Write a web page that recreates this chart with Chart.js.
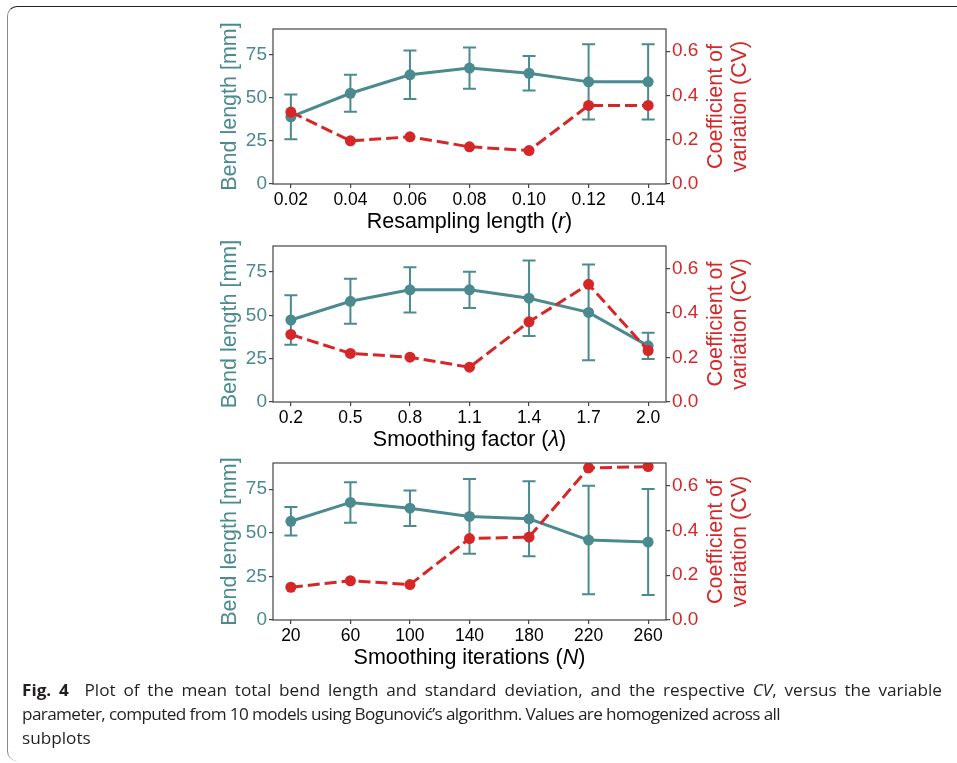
<!DOCTYPE html>
<html>
<head>
<meta charset="utf-8">
<script src="https://cdn.jsdelivr.net/npm/chart.js@4/dist/chart.umd.min.js"></script>
<style>
  html, body { margin:0; padding:0; background:#fff; width:957px; height:763px; overflow:hidden; }
  canvas { position:absolute; left:0; }
  #frame { position:absolute; left:7px; top:6px; width:1000px; height:754px;
           border-top:1.5px solid #222; border-left:1.5px solid #8a8a8a; border-radius:10px 0 0 10px; }
  #cap { position:absolute; left:22px; top:678px; font-family:"Open Sans","Noto Sans",sans-serif;
         font-size:16px; line-height:24px; color:#231f20; white-space:nowrap; }
  #cap .ln { white-space:nowrap; display:block; width:max-content; transform-origin:0 0; }
</style>
</head>
<body>
<div id="frame"></div>
<canvas id="c1" width="957" height="225" style="top:19px"></canvas>
<canvas id="c2" width="957" height="226" style="top:236px"></canvas>
<canvas id="c3" width="957" height="227" style="top:453px"></canvas>
<div id="cap">
  <div class="ln" id="ln1"><b>Fig. 4</b>&nbsp; Plot of the mean total bend length and standard deviation, and the respective <i>CV</i>, versus the variable</div>
  <div class="ln" id="ln2">parameter, computed from 10 models using Bogunović’s algorithm. Values are homogenized across all</div>
  <div class="ln" id="ln3">subplots</div>
</div>
<script>
// ---- data ----
const catsR = ['0.02','0.04','0.06','0.08','0.10','0.12','0.14'];
const meanR = [39.0, 52.7, 63.4, 67.3, 64.3, 59.3, 59.3];
const sdR   = [13.0, 10.7, 14.1, 12.0, 10.0, 21.9, 21.9];
const cvR   = [0.325, 0.195, 0.213, 0.168, 0.151, 0.355, 0.355];

const catsL = ['0.2','0.5','0.8','1.1','1.4','1.7','2.0'];
const meanL = [47.3, 58.1, 64.7, 64.7, 59.9, 51.7, 32.4];
const sdL   = [14.3, 13.0, 13.1, 10.4, 21.8, 27.6, 7.6];
const cvL   = [0.303, 0.218, 0.201, 0.156, 0.360, 0.528, 0.231];

const catsN = ['20','60','100','140','180','220','260'];
const meanN = [56.6, 67.4, 64.1, 59.4, 58.0, 45.8, 44.7];
const sdN   = [8.2, 11.6, 10.2, 21.4, 21.5, 31.1, 30.4];
const cvN   = [0.146, 0.175, 0.158, 0.363, 0.370, 0.678, 0.684];

const leftTicks  = [0, 25, 50, 75];
const rightTicks = [0, 0.2, 0.4, 0.6];
const leftTitle  = 'Bend length [mm]';
const rightTitle = ['Coefficient of', 'variation (CV)'];
const xTitleR = [['Resampling length (', false], ['r', true], [')', false]];
const xTitleL = [['Smoothing factor (', false], ['λ', true], [')', false]];
const xTitleN = [['Smoothing iterations (', false], ['N', true], [')', false]];

// ---- style ----
const TEAL = '#4b8a8e';
const RED = '#d62728';
const AX = '#444444';
const FAM = '"Liberation Sans", Arial, Helvetica, sans-serif';
const TITLE_SIZE = 21.5;
Chart.defaults.font.family = FAM;

function zeroPad(s) { s.paddingTop = 0; s.paddingBottom = 0; s.paddingLeft = 0; s.paddingRight = 0; }

function makeDecor(mean, sd, xTitle) {
  return {
    id: 'decor',
    beforeDatasetsDraw(chart) {
      const ctx = chart.ctx, xs = chart.scales.x, ys = chart.scales.y;
      ctx.save();
      ctx.strokeStyle = TEAL; ctx.lineWidth = 2;
      mean.forEach((m, i) => {
        const px = xs.getPixelForValue(i);
        const t = ys.getPixelForValue(m + sd[i]);
        const b = ys.getPixelForValue(m - sd[i]);
        ctx.beginPath();
        ctx.moveTo(px, t); ctx.lineTo(px, b);
        ctx.moveTo(px - 6.5, t); ctx.lineTo(px + 6.5, t);
        ctx.moveTo(px - 6.5, b); ctx.lineTo(px + 6.5, b);
        ctx.stroke();
      });
      ctx.restore();
    },
    afterDraw(chart) {
      const ctx = chart.ctx, a = chart.chartArea;
      ctx.save();
      ctx.strokeStyle = AX; ctx.lineWidth = 1.2;
      ctx.strokeRect(a.left, a.top, a.right - a.left, a.bottom - a.top);
      const midY = (a.top + a.bottom) / 2;
      ctx.save();
      ctx.translate(230, midY); ctx.rotate(-Math.PI / 2);
      ctx.font = TITLE_SIZE + 'px ' + FAM; ctx.fillStyle = TEAL;
      ctx.textAlign = 'center'; ctx.textBaseline = 'middle';
      ctx.fillText(leftTitle, 0, 0);
      ctx.restore();
      ctx.save();
      ctx.translate(728.5, midY); ctx.rotate(-Math.PI / 2);
      ctx.font = TITLE_SIZE + 'px ' + FAM; ctx.fillStyle = RED;
      ctx.textAlign = 'center'; ctx.textBaseline = 'middle';
      ctx.fillText(rightTitle[0], 0, -12);
      ctx.fillText(rightTitle[1], 0, 12);
      ctx.restore();
      let total = 0;
      const ws = xTitle.map(([t, it]) => {
        ctx.font = (it ? 'italic ' : '') + TITLE_SIZE + 'px ' + FAM;
        const w = ctx.measureText(t).width; total += w; return w;
      });
      let x = (a.left + a.right) / 2 - total / 2;
      ctx.fillStyle = '#000'; ctx.textAlign = 'left'; ctx.textBaseline = 'alphabetic';
      xTitle.forEach(([t, it], k) => {
        ctx.font = (it ? 'italic ' : '') + TITLE_SIZE + 'px ' + FAM;
        ctx.fillText(t, x, a.bottom + 44);
        x += ws[k];
      });
      ctx.restore();
    }
  };
}

function makeChart(id, cats, mean, sd, cv, xTitle) {
  const gridOpts = { drawOnChartArea: false, drawTicks: true, tickLength: 4, color: AX, lineWidth: 1.2 };
  new Chart(document.getElementById(id), {
    type: 'line',
    data: {
      datasets: [
        { label: 'CV', data: cv.map((v, i) => ({ x: i, y: v })), yAxisID: 'y1',
          borderColor: RED, backgroundColor: RED, borderWidth: 3, borderDash: [12, 5],
          pointRadius: 5.5, pointBorderWidth: 0, pointBackgroundColor: RED, tension: 0, order: 0 },
        { label: 'Bend length', data: mean.map((v, i) => ({ x: i, y: v })), yAxisID: 'y',
          borderColor: TEAL, backgroundColor: TEAL, borderWidth: 3,
          pointRadius: 5.5, pointBorderWidth: 0, pointBackgroundColor: TEAL, tension: 0, order: 1 }
      ]
    },
    options: {
      responsive: false, animation: false, devicePixelRatio: 1,
      layout: { padding: { top: 10, left: 0, right: 0, bottom: 0 } },
      plugins: { legend: { display: false }, tooltip: { enabled: false } },
      scales: {
        x: {
          type: 'linear', min: -0.3, max: 6.3,
          afterBuildTicks: s => { s.ticks = cats.map((c, i) => ({ value: i })); },
          ticks: { callback: v => cats[v], color: '#000', font: { size: 17.5 }, padding: 2, maxRotation: 0, autoSkip: false },
          grid: gridOpts, border: { display: false },
          afterFit: s => { s.height = 60; zeroPad(s); }
        },
        y: {
          position: 'left', min: 0, max: 90,
          afterBuildTicks: s => { s.ticks = leftTicks.map(v => ({ value: v })); },
          ticks: { color: TEAL, font: { size: 19 }, padding: 2 },
          grid: gridOpts, border: { display: false },
          afterFit: s => { s.width = 273; zeroPad(s); }
        },
        y1: {
          position: 'right', min: 0, max: 0.7,
          afterBuildTicks: s => { s.ticks = rightTicks.map(v => ({ value: v })); },
          ticks: { color: RED, font: { size: 19 }, padding: 2, callback: v => Number(v).toFixed(1) },
          grid: gridOpts, border: { display: false },
          afterFit: s => { s.width = 291; zeroPad(s); }
        }
      }
    },
    plugins: [makeDecor(mean, sd, xTitle)]
  });
}

makeChart('c1', catsR, meanR, sdR, cvR, xTitleR);
makeChart('c2', catsL, meanL, sdL, cvL, xTitleL);
makeChart('c3', catsN, meanN, sdN, cvN, xTitleN);

// caption: one common horizontal scale; line 1 widened by word spacing, line 2 tightened by letter spacing
const ln1 = document.getElementById('ln1');
const ln2 = document.getElementById('ln2');
const ln3 = document.getElementById('ln3');
const w1 = ln1.getBoundingClientRect().width;
const w2 = ln2.getBoundingClientRect().width;
const s = ((920 / w1) + (758 / w2)) / 2;
const nSp = (ln1.textContent.trim().match(/\s+/g) || []).length + 1;
ln1.style.wordSpacing = ((920 / s - w1) / nSp) + 'px';
const nCh = ln2.textContent.trim().length;
ln2.style.letterSpacing = ((758 / s - w2) / nCh) + 'px';
[ln1, ln2, ln3].forEach(l => { l.style.transform = 'scaleX(' + s + ')'; });
</script>
</body>
</html>
